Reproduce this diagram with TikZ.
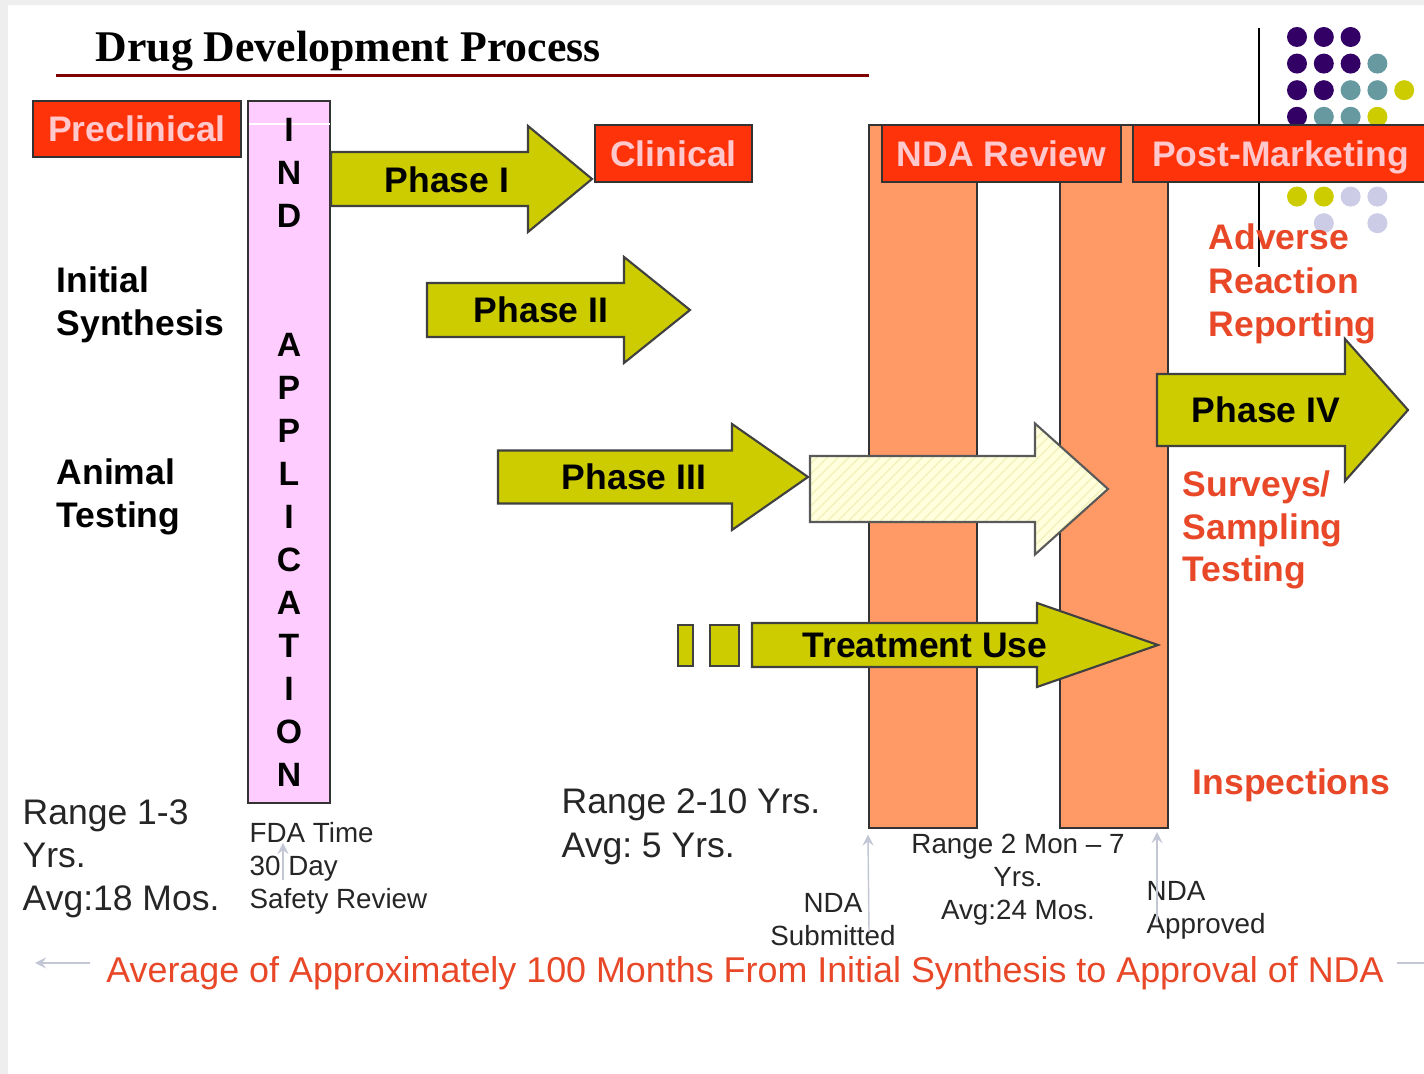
\documentclass[tikz,border=0pt]{standalone}
\usepackage{fontspec}
\setmainfont{Liberation Sans}
\newfontfamily\titlefont{Liberation Serif}
\usetikzlibrary{patterns}
\frenchspacing

\definecolor{boxred}{RGB}{255,51,10}
\definecolor{boxtext}{RGB}{255,200,205}
\definecolor{indpink}{RGB}{255,204,255}
\definecolor{phaseyellow}{RGB}{204,204,0}
\definecolor{reviewsalmon}{RGB}{255,153,102}
\definecolor{notered}{RGB}{232,72,40}
\definecolor{titleline}{RGB}{128,0,0}
\definecolor{hatchbase}{RGB}{255,255,222}
\definecolor{hatchline}{RGB}{242,242,188}
\definecolor{pointgray}{RGB}{195,198,212}
\definecolor{framegray}{RGB}{238,238,238}
\definecolor{dotpurple}{RGB}{51,0,102}
\definecolor{dotteal}{RGB}{102,153,160}
\definecolor{dotolive}{RGB}{204,204,0}
\definecolor{dotlilac}{RGB}{204,204,230}

\newcommand{\labelfont}{\fontsize{10.1}{12.2}\selectfont}
\newcommand{\notefont}{\fontsize{7.9}{9.4}\selectfont}

% fat arrow: [style]{left x}{head base x}{tip x}{mid y}{shaft half}{head half}
\newcommand{\fatarrow}[7][]{%
  \draw[#1] (#2,#5-#6) -- (#3,#5-#6) -- (#3,#5-#7) -- (#4,#5)
    -- (#3,#5+#7) -- (#3,#5+#6) -- (#2,#5+#6) -- cycle;}

\begin{document}
\begin{tikzpicture}[x=0.01cm, y=-0.01cm,
    redbox/.style={draw=black!80, line width=0.6pt, fill=boxred, text=boxtext,
      font=\labelfont\bfseries, inner sep=0pt, text height=0.72em, text depth=0pt},
    phasebar/.style={draw=black!75, line width=0.6pt, fill=phaseyellow},
    hatchbar/.style={draw=black!65, line width=0.6pt, pattern=north east lines,
      pattern color=hatchline, preaction={fill=hatchbase}},
    review/.style={draw=black!80, line width=0.6pt, fill=reviewsalmon, inner sep=0pt},
    phaselabel/.style={font=\labelfont\bfseries, inner sep=0pt},
    indletter/.style={font=\fontsize{9.6}{11}\selectfont\bfseries, inner sep=0pt},
    leftlabel/.style={font=\labelfont\bfseries, align=left, anchor=west, inner sep=0pt},
    rangelabel/.style={font=\labelfont, text=black!85, align=left, anchor=west, inner sep=0pt},
    notelabel/.style={font=\notefont, text=black!85, align=left, inner sep=0pt},
    postlabel/.style={font=\labelfont\bfseries, text=notered, align=left, anchor=west, inner sep=0pt},
    pointer/.style={draw=pointgray, line width=0.4pt, ->, >=stealth}
  ]
  \useasboundingbox (0,0) rectangle (1424,1074);
  \clip (0,0) rectangle (1424,1074);

  % Slide frame
  \fill[framegray] (0,0) rectangle (1424,1074);
  \fill[white] (8,5) rectangle (1424,1074);

  % Title and rule
  \node[anchor=base west, font=\titlefont\bfseries\fontsize{12.45}{14}\selectfont, inner sep=0pt]
    (title) at (95,62) {Drug Development Process};
  \draw[titleline, line width=0.85pt] (56,76) -- (869,76);

  % Corner decoration
  \draw[black, line width=0.45pt] (1259,28) -- (1259,267);
  \foreach \c/\r/\col in {0/0/dotpurple, 1/0/dotpurple, 2/0/dotpurple,
      0/1/dotpurple, 1/1/dotpurple, 2/1/dotpurple, 3/1/dotteal,
      0/2/dotpurple, 1/2/dotpurple, 2/2/dotteal, 3/2/dotteal, 4/2/dotolive,
      0/3/dotpurple, 1/3/dotteal, 2/3/dotteal, 3/3/dotolive,
      0/6/dotolive, 1/6/dotolive, 2/6/dotlilac, 3/6/dotlilac,
      1/7/dotlilac, 3/7/dotlilac} {
    \fill[\col] (1297+26.8*\c,37+26.6*\r) circle (10);
  }

  % NDA review columns
  \node[review, minimum width=1.08cm, minimum height=7.03cm] (revA) at (923,476.5) {};
  \node[review, minimum width=1.08cm, minimum height=7.03cm] (revB) at (1114,476.5) {};

  % Stage headers
  \node[redbox, minimum width=2.08cm, minimum height=0.56cm] (preclin) at (137,129) {Preclinical};
  \node[redbox, minimum width=1.57cm, minimum height=0.57cm] (clin) at (673.5,153.5) {Clinical};
  \node[redbox, minimum width=2.39cm, minimum height=0.57cm] (ndarev) at (1001.5,153.5) {NDA Review};
  \node[redbox, minimum width=2.95cm, minimum height=0.57cm] (postmkt) at (1280.5,153.5) {Post-Marketing};

  % IND application column
  \node[draw=black!80, line width=0.6pt, fill=indpink, minimum width=0.82cm,
    minimum height=7.02cm, inner sep=0pt] (ind) at (289,452) {};
  \draw[white, line width=0.5pt] (249,124) -- (330,124);
  \foreach \ch/\k in {I/0, N/1, D/2, A/5, P/6, P/7, L/8, I/9, C/10, A/11, T/12, I/13, O/14, N/15}
    \node[indletter] (ind\k) at (289,130+43*\k) {\ch};

  % Phase arrows
  \fatarrow[phasebar]{331}{528}{592}{179}{27}{53}
  \fatarrow[phasebar]{427}{624}{690}{310}{27}{53}
  \fatarrow[phasebar]{498}{732}{808}{477}{26.5}{53}
  \fatarrow[hatchbar]{810}{1035}{1108}{489}{33}{65.5}
  \fatarrow[phasebar]{1157}{1345}{1408}{410}{36}{71}
  \fatarrow[phasebar]{752}{1037}{1158}{645}{22}{42}
  \draw[phasebar] (678,625) rectangle (693,666);
  \draw[phasebar] (710,625) rectangle (739,666);

  \node[phaselabel] (ph1) at (447,180) {Phase I};
  \node[phaselabel] (ph2) at (541,310) {Phase II};
  \node[phaselabel] (ph3) at (634,477) {Phase III};
  \node[phaselabel] (ph4) at (1266,410) {Phase IV};
  \node[phaselabel] (treat) at (925,645) {Treatment Use};

  % Preclinical notes
  \node[leftlabel] (synth) at (56,305) {Initial\\Synthesis};
  \node[leftlabel] (animal) at (56,497) {Animal\\Testing};
  \node[rangelabel] (preclinrange) at (22,859) {Range 1-3\\Yrs.\\Avg:18 Mos.};
  \node[notelabel, anchor=west] (fdatime) at (249,868) {FDA Time\\30 Day\\Safety Review};

  % Clinical and review notes
  \node[rangelabel, font=\fontsize{10.1}{12.5}\selectfont] (clinrange) at (561,827)
    {Range 2-10 Yrs.\\Avg: 5 Yrs.};
  \node[notelabel, align=center] (reviewrange) at (1018,880) {Range 2 Mon -- 7\\Yrs.\\Avg:24 Mos.};
  \node[notelabel, align=center] (ndasub) at (833,920) {NDA\\Submitted};
  \node[notelabel, anchor=west] (ndaapp) at (1146,910) {NDA\\Approved};

  % Post-marketing notes
  \node[postlabel, font=\fontsize{10.1}{12.4}\selectfont\bfseries] (adverse) at (1208,284)
    {Adverse\\Reaction\\Reporting};
  \node[postlabel] (surveys) at (1182,530) {Surveys/\\Sampling\\Testing};
  \node[postlabel] (inspect) at (1192,785) {Inspections};

  % Pointers
  \coordinate (fdatail) at (283,880);
  \coordinate (fdahead) at (283,843);
  \draw[pointer] (fdatail) -- (fdahead);
  \coordinate (subtail) at (869,932);
  \draw[pointer, shorten >=1.5pt] (subtail) -- (revA.south west);
  \coordinate (apptail) at (1157,922);
  \coordinate (apphead) at (1157,832);
  \draw[pointer] (apptail) -- (apphead);

  % Overall timeline
  \node[font=\fontsize{10.2}{12.2}\selectfont, text=notered, inner sep=0pt] (avg) at (745,973)
    {Average of Approximately 100 Months From Initial Synthesis to Approval of NDA};
  \coordinate (avgleft) at (90,963);
  \coordinate (avgstart) at (35,963);
  \draw[pointer] (avgleft) -- (avgstart);
  \coordinate (avgright) at (1397,963);
  \coordinate (avgend) at (1424,963);
  \draw[pointgray, line width=0.4pt] (avgright) -- (avgend);
\end{tikzpicture}
\end{document}
